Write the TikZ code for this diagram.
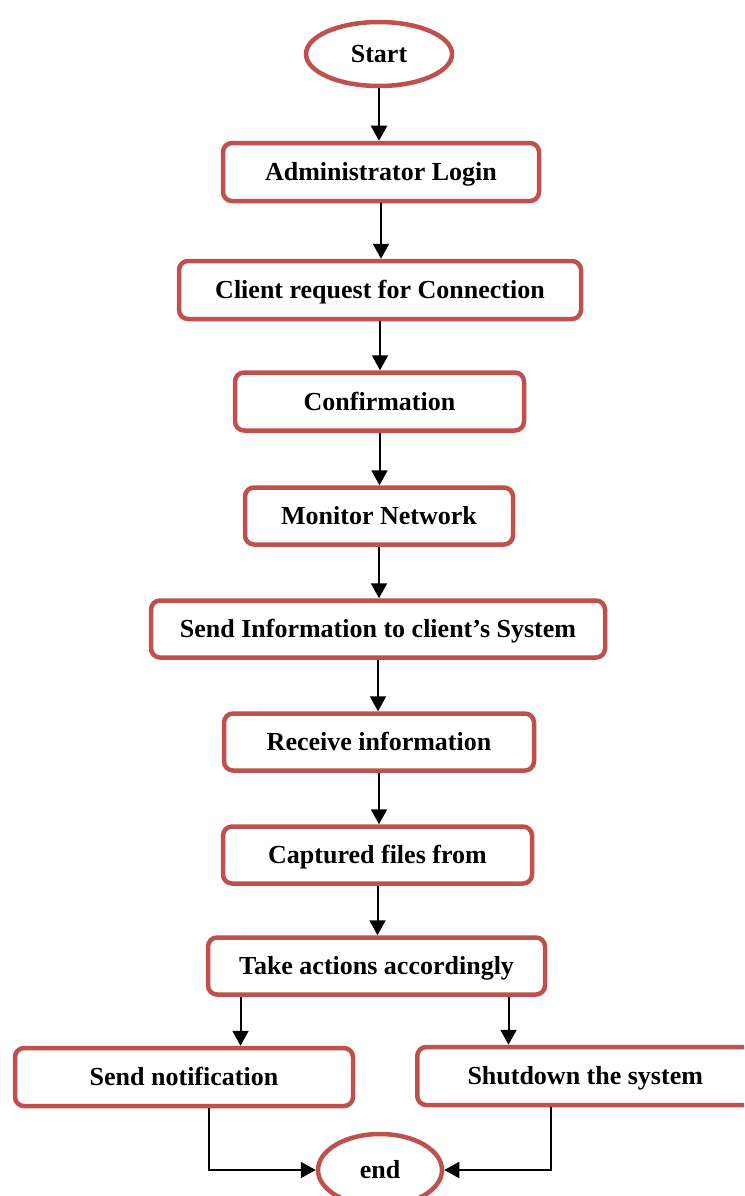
\documentclass[tikz,border=0pt]{standalone}
\usepackage{fontspec}
\setmainfont{Liberation Serif}
\usetikzlibrary{arrows.meta,shapes.geometric}
\definecolor{boxred}{HTML}{C0504D}
\begin{document}
\begin{tikzpicture}[x=1pt,y=-1pt,
  every node/.style={font=\fontsize{26}{30}\selectfont\bfseries, inner sep=0pt,
    text height=17.5pt, text depth=0pt},
  procbox/.style={draw=boxred, line width=4.5pt, rounded corners=9pt, fill=white},
  terminal/.style={draw=boxred, line width=4.5pt, ellipse, fill=white},
  flow/.style={line width=2pt, -{Triangle[length=15pt,width=16pt]}}]
\clip (0,0) rectangle (744,1196);
\fill[white] (0,0) rectangle (744,1196);

% terminals and process steps
\node[terminal, minimum width=146pt, minimum height=64pt] (start) at (379,54) {Start};
\node[procbox, minimum width=316pt, minimum height=58pt] (login) at (381,172) {Administrator Login};
\node[procbox, minimum width=402pt, minimum height=58pt] (req) at (380,290) {Client request for Connection};
\node[procbox, minimum width=289pt, minimum height=58pt] (conf) at (379.5,401.5) {Confirmation};
\node[procbox, minimum width=268pt, minimum height=57pt] (mon) at (379,516) {Monitor Network};
\node[procbox, minimum width=454pt, minimum height=57pt] (sendinfo) at (378,629) {Send Information to client’s System};
\node[procbox, minimum width=310pt, minimum height=57pt] (recv) at (379,742) {Receive information};
\node[procbox, minimum width=309pt, minimum height=57pt] (capt) at (377.5,855) {Captured files from};
\node[procbox, minimum width=337pt, minimum height=57pt] (act) at (376.5,966) {Take actions accordingly};
\node[procbox, minimum width=338pt, minimum height=58pt] (notify) at (184,1077) {Send notification};
\node[procbox, minimum width=350pt, minimum height=58pt, anchor=west] (shut) at (415,1076) {\hspace*{-7pt}Shutdown the system\hspace*{7pt}};
\node[terminal, minimum width=124pt, minimum height=72pt] (end) at (380,1170) {end};

% straight connectors down the main column
\draw[flow] (start.south) -- (start.south |- login.north);
\draw[flow] (login.south) -- (login.south |- req.north);
\draw[flow] (req.south) -- (req.south |- conf.north);
\draw[flow] (conf.south) -- (conf.south |- mon.north);
\draw[flow] (mon.south) -- (mon.south |- sendinfo.north);
\draw[flow] (sendinfo.south) -- (sendinfo.south |- recv.north);
\draw[flow] (recv.south) -- (recv.south |- capt.north);
\draw[flow] (capt.south) -- (capt.south |- act.north);

% split into the two outcomes
\coordinate (splitL) at ([xshift=-136pt]act.south);
\coordinate (splitR) at ([xshift=132pt]act.south);
\draw[flow] (splitL) -- (splitL |- notify.north);
\draw[flow] (splitR) -- (splitR |- shut.north);

% branches back to the end terminal
\coordinate (notifyOut) at ([xshift=25pt]notify.south);
\coordinate (shutOut) at (551,1105);
\draw[flow] (notifyOut) |- (end.west);
\draw[flow] (shutOut |- shut.south) |- (end.east);
\end{tikzpicture}
\end{document}
